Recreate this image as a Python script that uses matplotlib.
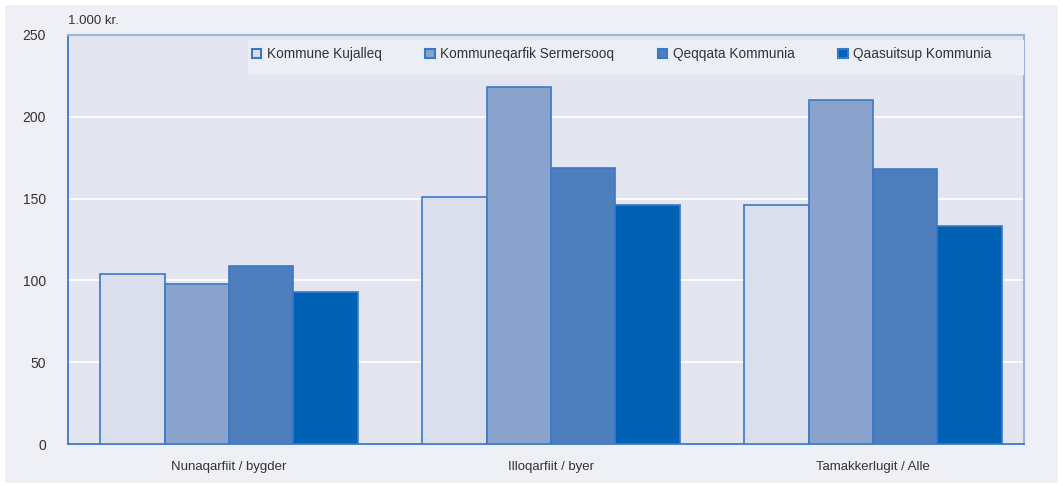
import matplotlib.pyplot as plt
import numpy as np
from matplotlib.patches import Rectangle, Patch

categories = ["Nunaqarfiit / bygder", "Illoqarfiit / byer", "Tamakkerlugit / Alle"]
series_names = ["Kommune Kujalleq", "Kommuneqarfik Sermersooq", "Qeqqata Kommunia", "Qaasuitsup Kommunia"]
kujalleq = [104, 151, 146]
sermersooq = [98, 218, 210]
qeqqata = [109, 169, 168]
qaasuitsup = [93, 146, 133]
values = [kujalleq, sermersooq, qeqqata, qaasuitsup]
colors = ["#dadfeb", "#8aa3cc", "#4f7ebd", "#0061b5"]
edge = "#3a78c8"

plt.rcParams['font.family'] = ['Liberation Sans', 'DejaVu Sans']
fig = plt.figure(figsize=(10.63, 4.86), dpi=100, facecolor="white")
fig.patches.append(Rectangle((5/1063, 3/486), 1053/1063, 478/486, transform=fig.transFigure,
                             facecolor="#eef0f5", edgecolor="none", zorder=-10))
ax = fig.add_axes([68/1063, (486-444)/486, (1024-68)/1063, (444-35)/486])
ax.set_facecolor("#e3e6f1")

x = np.arange(len(categories))
w = 0.2
for i, (vals, c) in enumerate(zip(values, colors)):
    ax.bar(x + (i - 1.5) * w, vals, width=w, color=c, edgecolor=edge, linewidth=1.2, zorder=3)

ax.set_ylim(0, 250)
ax.set_xlim(-0.5, 2.469)
ax.set_yticks([0, 50, 100, 150, 200, 250])
ax.yaxis.grid(True, color="white", linewidth=1.3, zorder=0)
ax.set_axisbelow(True)
ax.set_xticks(x)
ax.set_xticklabels(categories, fontsize=9.5, color="#333333")
ax.tick_params(axis='y', labelsize=10, colors="#333333", length=0, pad=16)
ax.tick_params(axis='x', length=0, pad=12)
for s in ["left", "bottom"]:
    ax.spines[s].set_color("#3a78c8")
    ax.spines[s].set_linewidth(1.3)
for s in ["top", "right"]:
    ax.spines[s].set_color("#9fb3da")
    ax.spines[s].set_linewidth(1.5)

ax.text(0, 1.02, "1.000 kr.", transform=ax.transAxes, fontsize=9.5, color="#333333", ha="left", va="bottom")

ax.add_patch(Rectangle((0.188, 0.902), 0.812, 0.086, transform=ax.transAxes,
                       facecolor="#eceef5", edgecolor="none", zorder=4))
handles = [Patch(facecolor=c, edgecolor=edge, linewidth=1.5) for c in colors]
leg = ax.legend(handles, series_names, ncol=4, loc="center left",
                bbox_to_anchor=(0.188, 0.953), frameon=False, fontsize=9.8,
                handlelength=0.7, handleheight=0.7, handletextpad=0.4,
                columnspacing=3.2, borderaxespad=0, borderpad=0.3)
leg.set_zorder(5)
for t in leg.get_texts():
    t.set_color("#333333")

fig.savefig("out.png", dpi=100, facecolor="white")
